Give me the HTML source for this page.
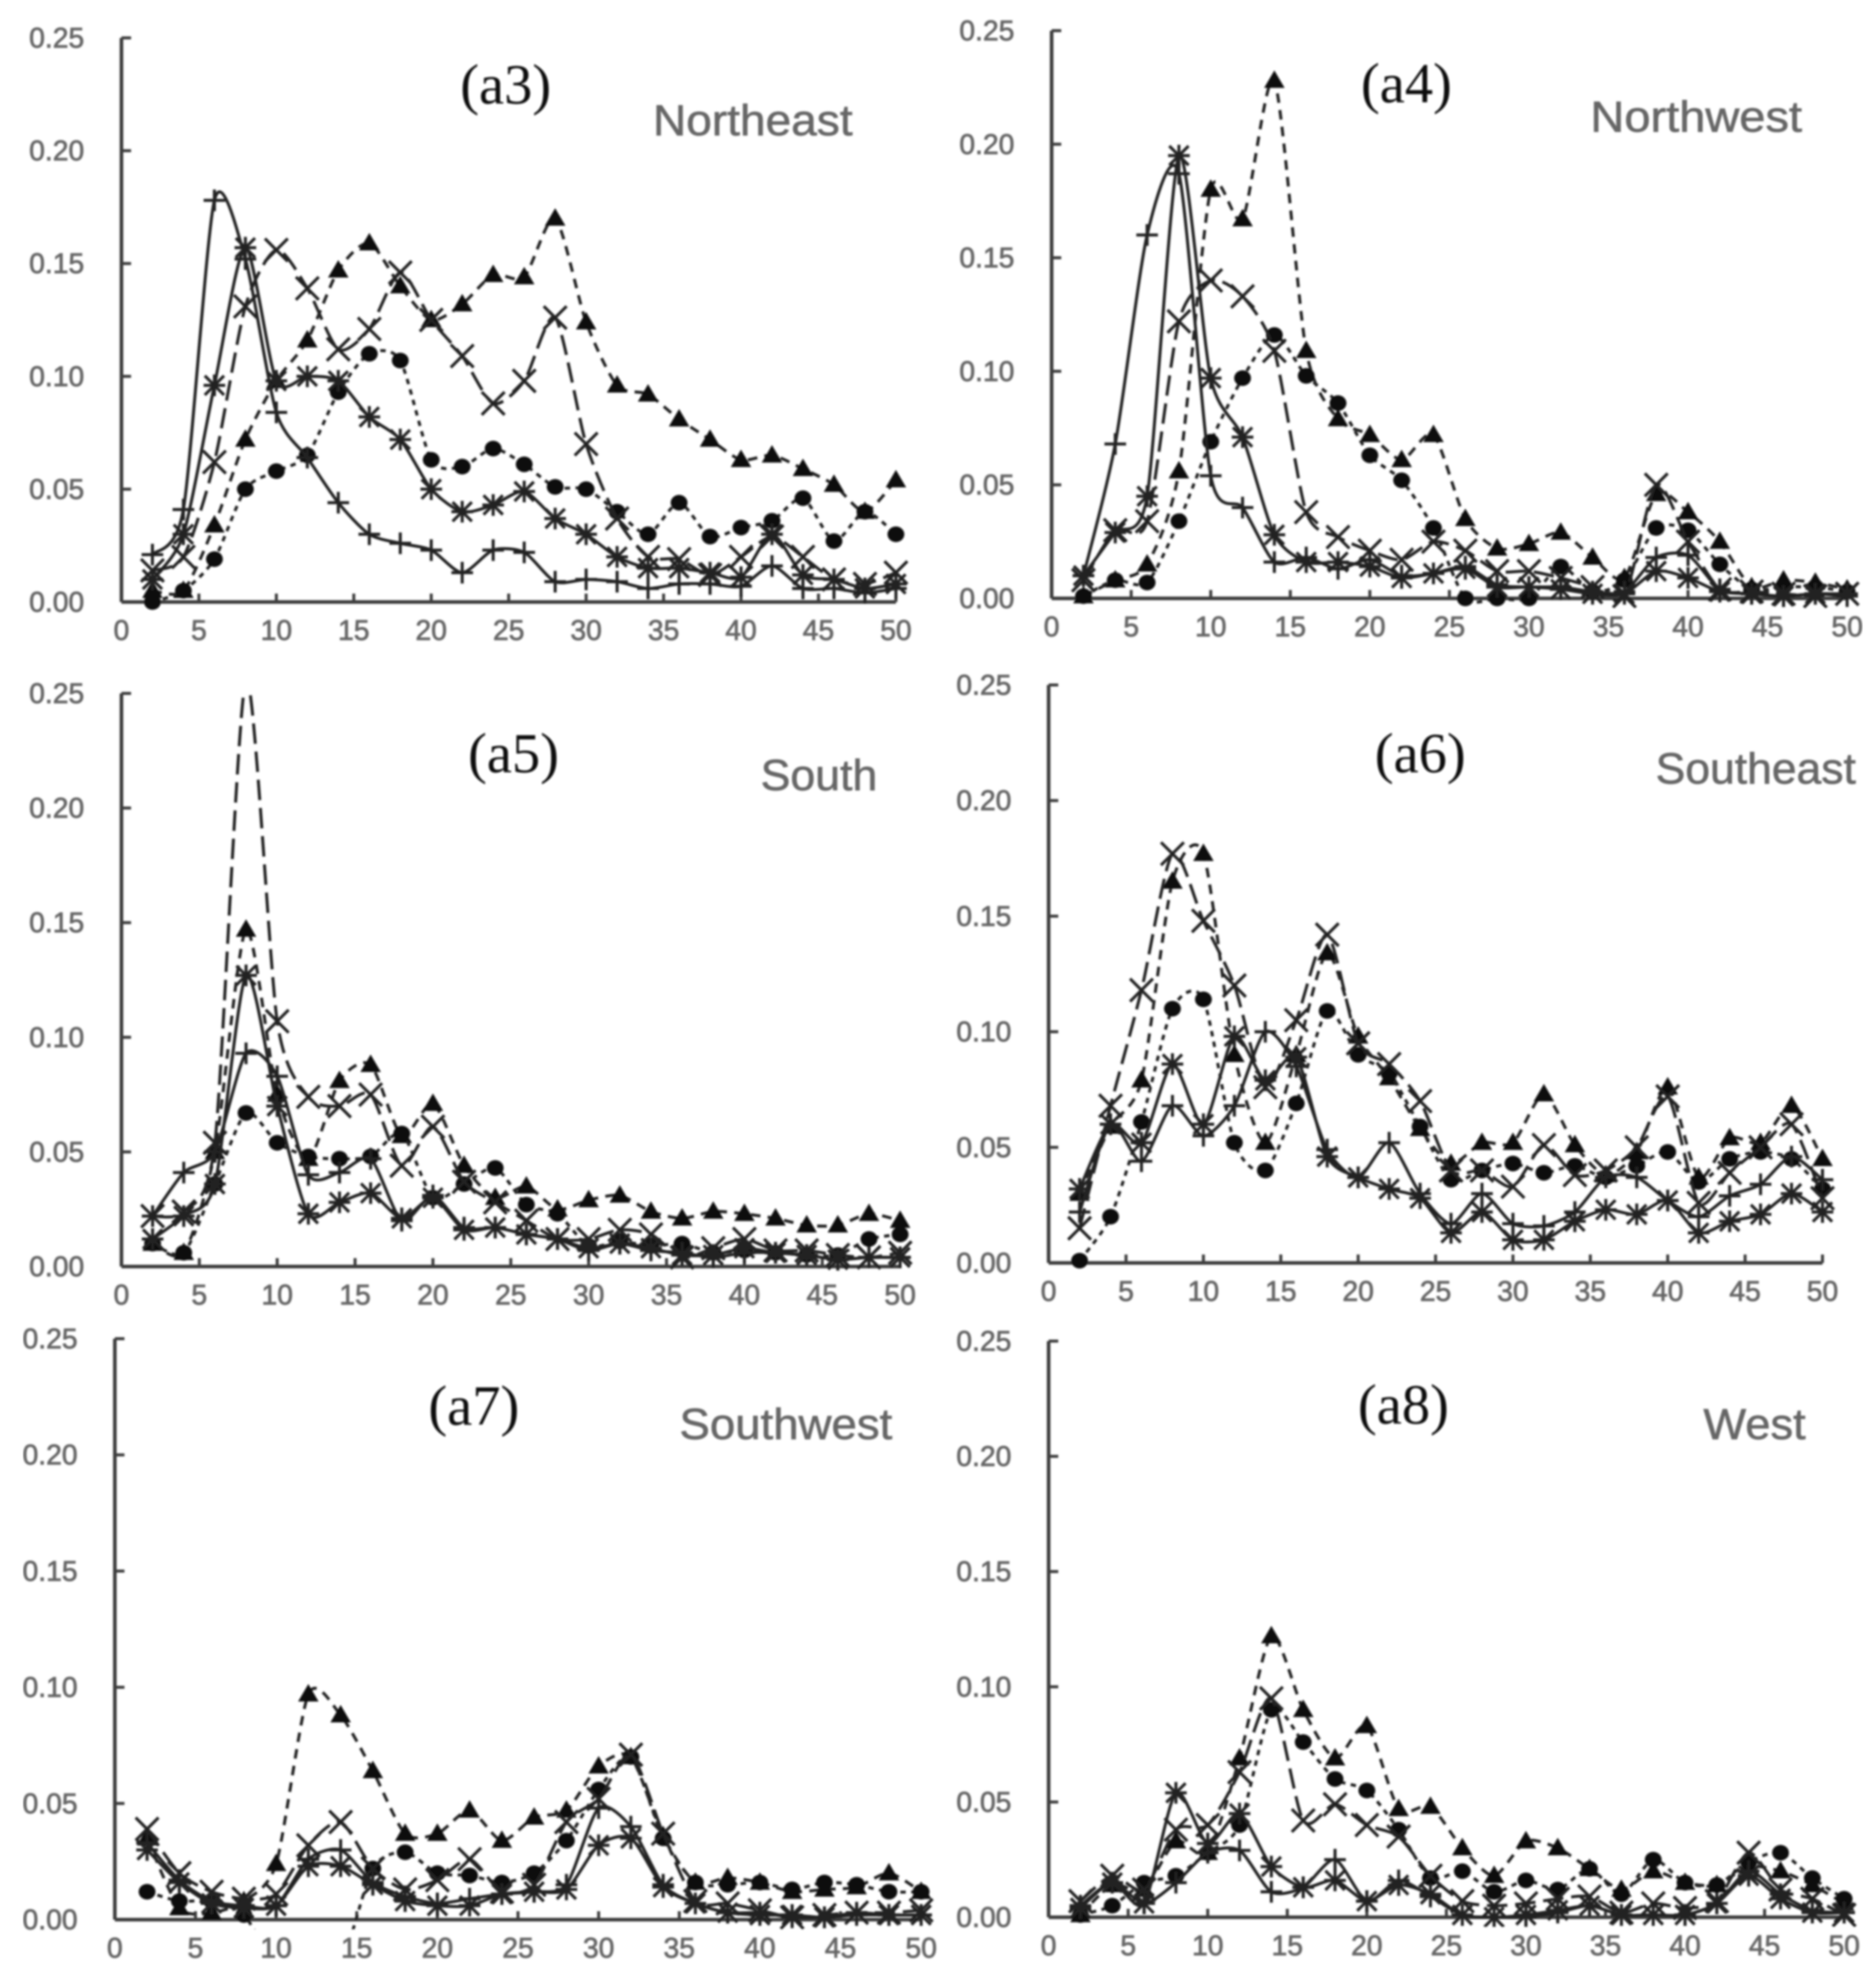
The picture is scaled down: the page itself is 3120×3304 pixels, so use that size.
<!DOCTYPE html>
<html>
<head>
<meta charset="utf-8">
<title>Regional curves a3 to a8</title>
<style>
html,body{margin:0;padding:0;background:#fff;}
svg{display:block;}
.panel-id{font-family:"Liberation Serif",serif;font-size:94px;fill:#111;text-anchor:middle;}
.region{font-family:"Liberation Sans",sans-serif;font-size:72px;fill:#666;stroke:#666;stroke-width:1;text-anchor:middle;}
.tick{font-family:"Liberation Sans",sans-serif;font-size:47px;fill:#666;stroke:#666;stroke-width:1.2;}
</style>
</head>
<body>
<svg id="figure" xmlns="http://www.w3.org/2000/svg" width="3120" height="3304" viewBox="0 0 3120 3304">
  <defs><filter id="soft" x="0" y="0" width="100%" height="100%"><feGaussianBlur stdDeviation="1.5"/></filter></defs>
  <rect width="3120" height="3304" fill="#fff"/>
  <g id="root" filter="url(#soft)">
    <text class="panel-id" x="841" y="172">(a3)</text>
    <text class="region" x="1252" y="225" textLength="332" lengthAdjust="spacingAndGlyphs">Northeast</text>
    <text class="panel-id" x="2339" y="170">(a4)</text>
    <text class="region" x="2821" y="219" textLength="352" lengthAdjust="spacingAndGlyphs">Northwest</text>
    <text class="panel-id" x="854" y="1284">(a5)</text>
    <text class="region" x="1362" y="1314" textLength="194" lengthAdjust="spacingAndGlyphs">South</text>
    <text class="panel-id" x="2362" y="1284">(a6)</text>
    <text class="region" x="2920" y="1303" textLength="333" lengthAdjust="spacingAndGlyphs">Southeast</text>
    <text class="panel-id" x="788" y="2369">(a7)</text>
    <text class="region" x="1307" y="2393" textLength="354" lengthAdjust="spacingAndGlyphs">Southwest</text>
    <text class="panel-id" x="2334" y="2367">(a8)</text>
    <text class="region" x="2918" y="2393" textLength="170" lengthAdjust="spacingAndGlyphs">West</text>
  </g>
</svg>
<script>
const categories = [2,4,6,8,10,12,14,16,18,20,22,24,26,28,30,32,34,36,38,40,42,44,46,48,50];
const xTickLabels = ['0','5','10','15','20','25','30','35','40','45','50'];
const yTickLabels = ['0.00','0.05','0.10','0.15','0.20','0.25'];

const a3Triangle = [0.005,0.005,0.034,0.072,0.098,0.116,0.147,0.159,0.140,0.125,0.132,0.145,0.144,0.170,0.124,0.096,0.092,0.081,0.072,0.063,0.065,0.059,0.052,0.040,0.054];
const a3Circle = [0.000,0.005,0.019,0.050,0.058,0.065,0.093,0.110,0.107,0.063,0.060,0.068,0.061,0.051,0.050,0.040,0.030,0.044,0.029,0.033,0.036,0.046,0.027,0.040,0.030];
const a3Cross = [0.014,0.020,0.062,0.131,0.156,0.139,0.112,0.121,0.146,0.125,0.109,0.088,0.098,0.126,0.070,0.037,0.020,0.019,0.012,0.020,0.029,0.020,0.010,0.008,0.013];
const a3Star = [0.010,0.030,0.096,0.157,0.098,0.100,0.098,0.082,0.072,0.050,0.040,0.043,0.049,0.037,0.030,0.020,0.015,0.015,0.013,0.011,0.030,0.012,0.010,0.006,0.008];
const a3Plus = [0.021,0.041,0.178,0.152,0.084,0.064,0.044,0.030,0.026,0.023,0.013,0.023,0.022,0.009,0.010,0.009,0.006,0.008,0.008,0.007,0.016,0.006,0.006,0.004,0.006];

const a4Triangle = [0.001,0.008,0.015,0.056,0.180,0.167,0.228,0.109,0.079,0.072,0.061,0.072,0.035,0.022,0.024,0.029,0.018,0.009,0.046,0.038,0.025,0.005,0.008,0.007,0.004];
const a4Circle = [0.001,0.008,0.007,0.034,0.069,0.097,0.116,0.098,0.086,0.063,0.052,0.031,0.000,0.000,0.000,0.014,0.003,0.008,0.031,0.030,0.015,0.004,0.005,0.005,0.003];
const a4Cross = [0.008,0.030,0.034,0.122,0.140,0.133,0.109,0.038,0.027,0.021,0.017,0.025,0.021,0.012,0.012,0.009,0.005,0.001,0.050,0.025,0.004,0.003,0.002,0.001,0.002];
const a4Star = [0.010,0.029,0.045,0.195,0.097,0.071,0.028,0.016,0.016,0.014,0.009,0.011,0.013,0.005,0.005,0.004,0.002,0.002,0.012,0.009,0.003,0.002,0.001,0.002,0.002];
const a4Plus = [0.010,0.068,0.160,0.187,0.054,0.040,0.016,0.018,0.013,0.017,0.010,0.011,0.014,0.006,0.005,0.005,0.003,0.003,0.018,0.019,0.004,0.002,0.001,0.002,0.001];

const a5Triangle = [0.010,0.006,0.050,0.147,0.075,0.047,0.081,0.088,0.057,0.071,0.044,0.030,0.035,0.025,0.029,0.031,0.024,0.021,0.024,0.023,0.021,0.018,0.018,0.023,0.020];
const a5Circle = [0.010,0.006,0.036,0.067,0.054,0.048,0.047,0.048,0.058,0.030,0.036,0.043,0.027,0.023,0.009,0.011,0.009,0.010,0.006,0.007,0.006,0.005,0.005,0.012,0.014];
const a5Cross = [0.022,0.024,0.054,0.256,0.107,0.074,0.070,0.075,0.044,0.061,0.037,0.028,0.020,0.012,0.012,0.016,0.014,0.004,0.008,0.012,0.007,0.007,0.005,0.004,0.006];
const a5Star = [0.012,0.022,0.036,0.127,0.070,0.023,0.028,0.032,0.021,0.030,0.016,0.017,0.014,0.012,0.008,0.010,0.008,0.005,0.005,0.008,0.006,0.005,0.003,0.004,0.004];
const a5Plus = [0.022,0.041,0.050,0.093,0.083,0.040,0.041,0.047,0.020,0.031,0.017,0.017,0.014,0.012,0.007,0.010,0.007,0.006,0.004,0.006,0.006,0.005,0.003,0.004,0.004];

const a6Triangle = [0.030,0.059,0.079,0.165,0.177,0.090,0.052,0.090,0.134,0.098,0.080,0.058,0.043,0.052,0.052,0.073,0.051,0.038,0.048,0.076,0.037,0.054,0.052,0.068,0.045];
const a6Circle = [0.001,0.020,0.061,0.110,0.114,0.052,0.040,0.069,0.109,0.090,0.082,0.059,0.036,0.040,0.043,0.039,0.042,0.037,0.042,0.048,0.035,0.045,0.048,0.045,0.032];
const a6Cross = [0.015,0.068,0.118,0.177,0.148,0.120,0.076,0.105,0.142,0.095,0.086,0.070,0.040,0.040,0.033,0.051,0.038,0.040,0.050,0.072,0.026,0.039,0.050,0.060,0.028];
const a6Star = [0.032,0.060,0.052,0.086,0.060,0.098,0.079,0.089,0.046,0.037,0.032,0.028,0.013,0.022,0.010,0.010,0.018,0.023,0.021,0.027,0.013,0.018,0.021,0.030,0.022];
const a6Plus = [0.022,0.060,0.044,0.068,0.055,0.068,0.100,0.085,0.049,0.037,0.052,0.030,0.017,0.030,0.017,0.016,0.022,0.037,0.037,0.027,0.020,0.029,0.034,0.046,0.036];

const a7Triangle = [0.035,0.005,0.003,0.008,0.024,0.097,0.088,0.064,0.037,0.037,0.047,0.034,0.044,0.047,0.066,0.070,0.036,0.016,0.018,0.016,0.012,0.013,0.014,0.020,0.012];
const a7Circle = [0.012,0.008,0.008,0.002,-0.020,-0.030,-0.020,0.022,0.029,0.020,0.019,0.016,0.020,0.034,0.056,0.070,0.035,0.016,0.015,0.016,0.013,0.016,0.015,0.012,0.012];
const a7Cross = [0.039,0.020,0.012,0.009,0.011,0.032,0.042,0.022,0.013,0.017,0.026,0.012,0.015,0.042,0.052,0.071,0.037,0.008,0.007,0.004,0.001,0.002,0.003,0.003,0.004];
const a7Star = [0.030,0.016,0.007,0.005,0.006,0.023,0.023,0.015,0.008,0.006,0.006,0.011,0.012,0.013,0.032,0.035,0.014,0.007,0.003,0.002,0.002,0.001,0.003,0.002,0.002];
const a7Plus = [0.033,0.017,0.008,0.006,0.006,0.026,0.030,0.016,0.010,0.007,0.009,0.011,0.012,0.015,0.048,0.040,0.015,0.007,0.003,0.003,0.001,0.001,0.002,0.002,0.002];

const a8Triangle = [0.001,0.014,0.012,0.033,0.028,0.069,0.122,0.090,0.069,0.083,0.047,0.048,0.030,0.018,0.033,0.030,0.021,0.012,0.020,0.015,0.014,0.022,0.020,0.014,0.006];
const a8Circle = [0.001,0.005,0.015,0.018,0.028,0.040,0.090,0.076,0.060,0.055,0.038,0.017,0.020,0.011,0.016,0.012,0.021,0.010,0.025,0.015,0.014,0.024,0.028,0.017,0.008];
const a8Cross = [0.007,0.018,0.012,0.038,0.040,0.063,0.095,0.042,0.049,0.040,0.035,0.018,0.007,0.005,0.006,0.008,0.009,0.002,0.006,0.004,0.007,0.028,0.012,0.008,0.001];
const a8Star = [0.004,0.015,0.006,0.054,0.032,0.045,0.022,0.013,0.016,0.007,0.014,0.010,0.001,0.000,0.001,0.003,0.005,0.001,0.001,0.001,0.006,0.018,0.008,0.002,0.002];
const a8Plus = [0.005,0.015,0.006,0.015,0.028,0.029,0.011,0.013,0.025,0.007,0.016,0.009,0.001,0.000,0.000,0.002,0.005,0.001,0.001,0.001,0.006,0.020,0.010,0.003,0.002];

const panelLayouts = [
  {id:'a3', left:202, right:1490, top:63, bottom:1001, series:[a3Triangle,a3Circle,a3Cross,a3Star,a3Plus]},
  {id:'a4', left:1749, right:3072, top:51, bottom:995, series:[a4Triangle,a4Circle,a4Cross,a4Star,a4Plus]},
  {id:'a5', left:202, right:1497, top:1153, bottom:2106, series:[a5Triangle,a5Circle,a5Cross,a5Star,a5Plus]},
  {id:'a6', left:1744, right:3031, top:1139, bottom:2100, series:[a6Triangle,a6Circle,a6Cross,a6Star,a6Plus]},
  {id:'a7', left:191, right:1532, top:2226, bottom:3192, series:[a7Triangle,a7Circle,a7Cross,a7Star,a7Plus]},
  {id:'a8', left:1744, right:3067, top:2230, bottom:3188, series:[a8Triangle,a8Circle,a8Cross,a8Star,a8Plus]}
];
const seriesStyles = [
  {kind:'triangle', dash:'16 12'},
  {kind:'circle', dash:'9 9'},
  {kind:'cross', dash:'34 13'},
  {kind:'star', dash:''},
  {kind:'plus', dash:''}
];
const INK = '#222';
const NS = 'http://www.w3.org/2000/svg';
const root = document.getElementById('root');
const defs = document.querySelector('#figure defs');

function make(tag, attrs, parent) {
  const el = document.createElementNS(NS, tag);
  for (const k in attrs) el.setAttribute(k, attrs[k]);
  parent.appendChild(el);
  return el;
}
function smoothPath(pts) {
  let d = 'M' + pts[0][0].toFixed(1) + ' ' + pts[0][1].toFixed(1);
  for (let i = 0; i < pts.length - 1; i++) {
    const p0 = pts[Math.max(0, i - 1)], p1 = pts[i], p2 = pts[i + 1], p3 = pts[Math.min(pts.length - 1, i + 2)];
    const c1x = p1[0] + (p2[0] - p0[0]) / 8, c1y = p1[1] + (p2[1] - p0[1]) / 8;
    const c2x = p2[0] - (p3[0] - p1[0]) / 8, c2y = p2[1] - (p3[1] - p1[1]) / 8;
    d += 'C' + c1x.toFixed(1) + ' ' + c1y.toFixed(1) + ' ' + c2x.toFixed(1) + ' ' + c2y.toFixed(1) + ' ' + p2[0].toFixed(1) + ' ' + p2[1].toFixed(1);
  }
  return d;
}
function drawMarker(kind, px, py, parent) {
  let el;
  if (kind === 'triangle') {
    el = make('path', {d:'M' + px + ' ' + (py - 17) + 'L' + (px + 17) + ' ' + (py + 12) + 'L' + (px - 17) + ' ' + (py + 12) + 'Z', fill:'#0c0c0c'}, parent);
  } else if (kind === 'circle') {
    el = make('ellipse', {cx:px, cy:py, rx:14, ry:13, fill:'#0c0c0c'}, parent);
  } else {
    let d = '';
    if (kind === 'cross' || kind === 'star') {
      const h = kind === 'cross' ? 19 : 16;
      d += 'M' + (px - h) + ' ' + (py - h) + 'L' + (px + h) + ' ' + (py + h) + 'M' + (px - h) + ' ' + (py + h) + 'L' + (px + h) + ' ' + (py - h);
    }
    if (kind === 'plus' || kind === 'star') {
      const h = 18;
      d += 'M' + (px - h) + ' ' + py + 'L' + (px + h) + ' ' + py + 'M' + px + ' ' + (py - h) + 'L' + px + ' ' + (py + h);
    }
    el = make('path', {d:d, fill:'none', stroke:INK, 'stroke-width':5}, parent);
  }
  
  
}
function drawPanel(panel) {
  const xScale = function (v) { return panel.left + (panel.right - panel.left) * v / 50; };
  const yScale = function (v) { return panel.bottom - (panel.bottom - panel.top) * v / 0.25; };

  const g = make('g', {}, root);
  
  

  const clip = make('clipPath', {id:'clip-' + panel.id}, defs);
  make('rect', {x:panel.left - 40, y:panel.top, width:panel.right - panel.left + 80, height:panel.bottom - panel.top + 16}, clip);

  const yAxis = make('line', {x1:panel.left, x2:panel.left, y1:panel.top, y2:panel.bottom, stroke:'#3c3c3c', 'stroke-width':6}, g);
  
  
  const xAxis = make('line', {x1:panel.left, x2:panel.right, y1:panel.bottom, y2:panel.bottom, stroke:'#3c3c3c', 'stroke-width':6}, g);
  
  

  yTickLabels.forEach(function (label) {
    const y = yScale(parseFloat(label));
    const tick = make('line', {x1:panel.left, x2:panel.left + 16, y1:y, y2:y, stroke:'#3c3c3c', 'stroke-width':5}, g);
    
    
    const text = make('text', {class:'tick', x:panel.left - 62, y:y + 16, 'text-anchor':'end'}, g);
    
    
    text.textContent = label;
  });
  xTickLabels.forEach(function (label) {
    const x = xScale(parseFloat(label));
    const tick = make('line', {x1:x, x2:x, y1:panel.bottom - 14, y2:panel.bottom, stroke:'#3c3c3c', 'stroke-width':5}, g);
    
    
    const text = make('text', {class:'tick', x:x, y:panel.bottom + 63, 'text-anchor':'middle'}, g);
    
    
    text.textContent = label;
  });

  const plot = make('g', {'clip-path':'url(#clip-' + panel.id + ')'}, g);
  
  
  panel.series.forEach(function (values, s) {
    const style = seriesStyles[s];
    const pts = values.map(function (v, i) { return [xScale(categories[i]), yScale(v)]; });
    const line = make('path', {d:smoothPath(pts), fill:'none', stroke:INK, 'stroke-width':5}, plot);
    if (style.dash) line.setAttribute('stroke-dasharray', style.dash);
    
    
    pts.forEach(function (p) { drawMarker(style.kind, +p[0].toFixed(1), +p[1].toFixed(1), plot); });
  });
}
panelLayouts.forEach(drawPanel);
</script>
</body>
</html>
